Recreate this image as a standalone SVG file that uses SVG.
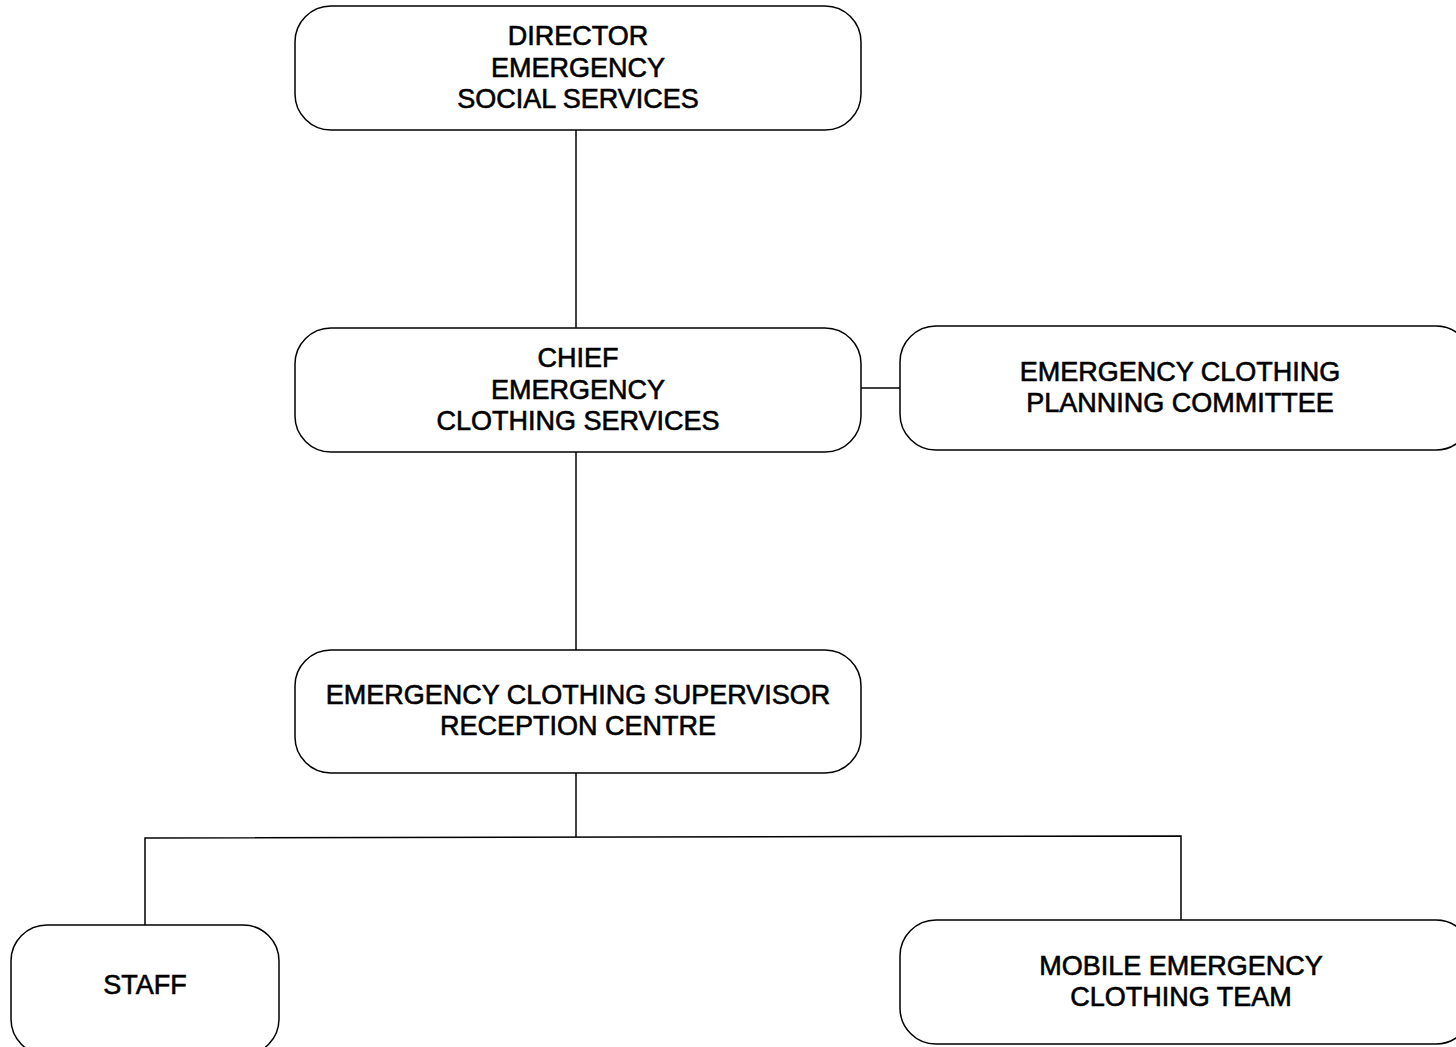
<svg xmlns="http://www.w3.org/2000/svg" width="1456" height="1047" viewBox="0 0 1456 1047">
<style>
.box{fill:#fff;stroke:#000;stroke-width:1.5}
.lbl{font-family:"Liberation Sans",Arial,sans-serif;font-size:27px;fill:#000;stroke:#000;stroke-width:0.6;text-anchor:middle}
.con{stroke:#000;stroke-width:1.5;fill:none}
</style>
<rect width="1456" height="1047" fill="#fff"/>
<g id="connectors">
<line class="con" x1="576" y1="130" x2="576" y2="328"/>
<line class="con" x1="576" y1="452" x2="576" y2="650"/>
<line class="con" x1="861" y1="388" x2="900" y2="388"/>
<line class="con" x1="576" y1="773" x2="576" y2="837"/>
<polyline class="con" points="145,925 145,838 1181,836 1181,920"/>
</g>
<g id="director">
<rect class="box" x="295" y="6" width="566" height="124" rx="36"/>
<text class="lbl" x="578" y="45">DIRECTOR</text>
<text class="lbl" x="578" y="77">EMERGENCY</text>
<text class="lbl" x="578" y="108">SOCIAL SERVICES</text>
</g>
<g id="chief">
<rect class="box" x="295" y="328" width="566" height="124" rx="36"/>
<text class="lbl" x="578" y="367">CHIEF</text>
<text class="lbl" x="578" y="399">EMERGENCY</text>
<text class="lbl" x="578" y="430">CLOTHING SERVICES</text>
</g>
<g id="planning">
<rect class="box" x="900" y="326" width="572" height="124" rx="36"/>
<text class="lbl" x="1180" y="381">EMERGENCY CLOTHING</text>
<text class="lbl" x="1180" y="412">PLANNING COMMITTEE</text>
</g>
<g id="supervisor">
<rect class="box" x="295" y="650" width="566" height="123" rx="36"/>
<text class="lbl" x="578" y="704">EMERGENCY CLOTHING SUPERVISOR</text>
<text class="lbl" x="578" y="735">RECEPTION CENTRE</text>
</g>
<g id="staff">
<rect class="box" x="11" y="925" width="268" height="130" rx="36"/>
<text class="lbl" x="145" y="994">STAFF</text>
</g>
<g id="mobile">
<rect class="box" x="900" y="920" width="572" height="124" rx="36"/>
<text class="lbl" x="1181" y="975">MOBILE EMERGENCY</text>
<text class="lbl" x="1181" y="1006">CLOTHING TEAM</text>
</g>
</svg>
